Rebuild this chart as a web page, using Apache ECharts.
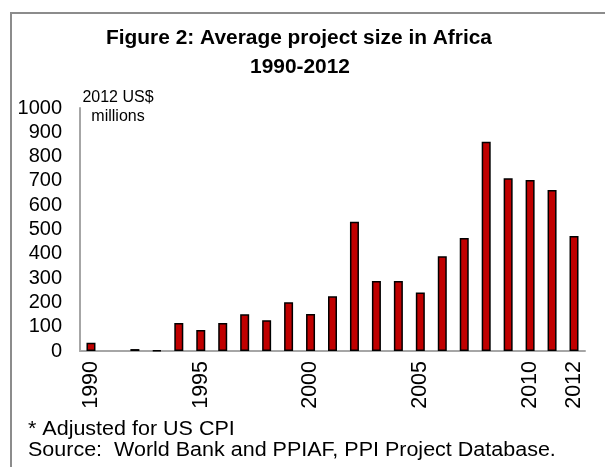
<!DOCTYPE html>
<html>
<head>
<meta charset="utf-8">
<script src="https://cdn.jsdelivr.net/npm/echarts@6/dist/echarts.min.js"></script>
<style>
html,body{margin:0;padding:0;background:#fff;}
#chart{width:605px;height:467px;}
</style>
</head>
<body>
<div id="chart"></div>
<script>
var titleLines = ['Figure 2: Average project size in Africa', '1990-2012'];
var unitLines = ['2012 US$', 'millions'];
var notes = ['* Adjusted for US CPI', 'Source:  World Bank and PPIAF, PPI Project Database.'];
var years = ['1990','1991','1992','1993','1994','1995','1996','1997','1998','1999','2000','2001','2002','2003','2004','2005','2006','2007','2008','2009','2010','2011','2012'];
var avgSize = [34, null, 8, 3, 115, 86, 115, 151, 127, 201, 152, 225, 532, 288, 288, 241, 390, 465, 861, 711, 704, 663, 473];
var shownYears = ['1990','1995','2000','2005','2010','2012'];

var font = '"Liberation Sans", Arial, sans-serif';
var chart = echarts.init(document.getElementById('chart'), null, {renderer: 'canvas'});
chart.setOption({
  animation: false,
  backgroundColor: '#ffffff',
  grid: {left: 80, right: 20, top: 108, bottom: 116, containLabel: false},
  xAxis: {
    type: 'category',
    data: years,
    axisLine: {lineStyle: {color: '#a6a6a6', width: 2}},
    axisTick: {show: false},
    axisLabel: {
      rotate: 90,
      margin: 10,
      fontSize: 21.5,
      fontFamily: font,
      color: '#000',
      interval: function (idx, val) { return shownYears.indexOf(val) >= 0; }
    }
  },
  yAxis: {
    type: 'value',
    min: 0, max: 1000, interval: 100,
    axisLine: {show: true, lineStyle: {color: '#a6a6a6', width: 2}},
    axisTick: {show: false},
    splitLine: {show: false},
    axisLabel: {fontSize: 20, fontFamily: font, color: '#000', margin: 18,
      formatter: function (v) { return String(v); }}
  },
  series: [{
    type: 'bar',
    data: avgSize,
    barWidth: 9,
    itemStyle: {color: '#c00000', borderColor: '#000', borderWidth: 1.5}
  }],
  graphic: [
    {type: 'rect', silent: true, shape: {x: 11, y: 13, width: 700, height: 600},
     style: {fill: 'none', stroke: '#8c8c8c', lineWidth: 2}},
    {type: 'text', x: 299, y: 38, scaleX: 1.045, style: {text: titleLines[0], fontSize: 20, fontWeight: 'bold', fontFamily: font, fill: '#000', textAlign: 'center', textVerticalAlign: 'middle'}},
    {type: 'text', x: 300, y: 67, scaleX: 1.045, style: {text: titleLines[1], fontSize: 20, fontWeight: 'bold', fontFamily: font, fill: '#000', textAlign: 'center', textVerticalAlign: 'middle'}},
    {type: 'text', x: 118, y: 98, style: {text: unitLines[0], fontSize: 16, fontFamily: font, fill: '#000', textAlign: 'center', textVerticalAlign: 'middle'}},
    {type: 'text', x: 118, y: 117, style: {text: unitLines[1], fontSize: 16, fontFamily: font, fill: '#000', textAlign: 'center', textVerticalAlign: 'middle'}},
    {type: 'text', x: 28, y: 429, scaleX: 1.075, style: {text: notes[0], fontSize: 20, fontFamily: font, fill: '#000', textAlign: 'left', textVerticalAlign: 'middle'}},
    {type: 'text', x: 28, y: 450, scaleX: 1.075, style: {text: notes[1], fontSize: 20, fontFamily: font, fill: '#000', textAlign: 'left', textVerticalAlign: 'middle'}}
  ]
});
</script>
</body>
</html>
